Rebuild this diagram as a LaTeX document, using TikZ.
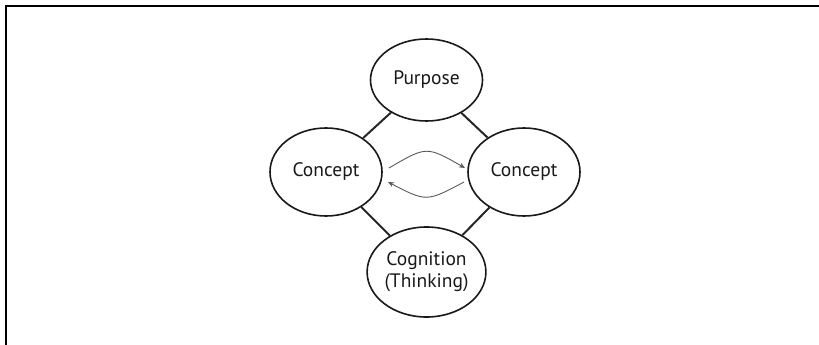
\documentclass[tikz,border=0pt]{standalone}
\usepackage{fontspec}
\setmainfont{PT Sans}
\usetikzlibrary{shapes.geometric,arrows.meta}
\begin{document}
\begin{tikzpicture}[x=1pt,y=-1pt,
  bubble/.style={ellipse,draw=black!90,line width=1.6pt,minimum width=112pt,inner sep=0pt,
    font=\fontsize{19.5}{22}\selectfont,text=black!90,align=center},
  link/.style={draw=black!85,line width=2pt},
  swap/.style={draw=black!65,line width=0.9pt,-{Stealth[length=6pt,width=5pt]}},
  frame/.style={draw=black,line width=2pt}]
\useasboundingbox (0,0) rectangle (819,345);
\draw[frame] (819,6) -- (6,6) -- (6,345);
\node[bubble,minimum height=82pt] (p) at (426.5,80) {Purpose};
\node[bubble,minimum height=88pt] (l) at (326,172) {Concept};
\node[bubble,minimum height=88pt] (r) at (524,172) {Concept};
\node[bubble,minimum height=90pt] (c) at (426.5,272) {Cognition\\(Thinking)};
\draw[link] (p) -- (l);
\draw[link] (p) -- (r);
\draw[link] (l) -- (c);
\draw[link] (r) -- (c);
\coordinate (a1) at (389,168);
\coordinate (a2) at (465,168);
\coordinate (a3) at (464,182);
\coordinate (a4) at (388,182);
\draw[swap] (a1) .. controls (426.5,146) .. (a2);
\draw[swap] (a3) .. controls (426.5,202) .. (a4);
\end{tikzpicture}
\end{document}
